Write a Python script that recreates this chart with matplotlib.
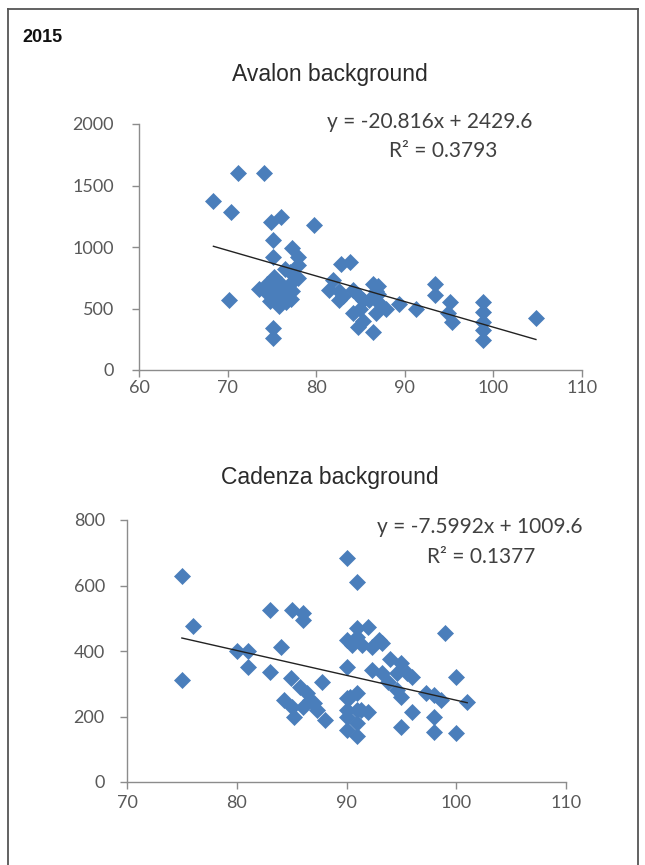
import matplotlib
matplotlib.use("Agg")
import matplotlib.pyplot as plt
from matplotlib.lines import Line2D
import numpy as np

# ---------------- data ----------------
avalon_x = [68.4, 70.4, 71.2, 74.1, 70.2, 79.8, 76.0, 74.9, 75.1, 75.1, 77.3, 77.9,
            77.2, 75.1, 75.1,
            73.5, 74.2, 74.5, 75.0, 75.2, 76.0, 76.2, 76.0, 77.0, 77.3, 78.0, 78.0,
            76.5, 75.5, 77.0, 74.8, 76.6, 75.8,
            82.8, 83.8, 81.9, 81.5, 86.4, 82.6, 84.7, 86.0, 87.1, 89.4, 91.3, 85.3,
            84.7, 86.4, 84.1, 86.8, 87.9, 82.6, 84.1, 85.3, 86.8, 83.0, 85.0, 87.0, 87.0,
            93.4, 93.4, 95.1, 94.9, 95.3,
            98.8, 98.8, 98.8, 98.8, 98.8,
            104.8]
avalon_y = [1376, 1287, 1600, 1600, 569, 1180, 1246, 1206, 1060, 921, 989, 921,
            580, 339, 257,
            660, 640, 700, 600, 760, 700, 640, 580, 700, 640, 750, 850,
            820, 680, 800, 560, 555, 520,
            860, 880, 730, 650, 700, 570, 610, 570, 545, 540, 500, 400,
            350, 310, 460, 460, 500, 640, 650, 570, 640, 600, 500, 680, 620,
            700, 610, 555, 460, 393,
            555, 474, 393, 325, 244,
            423]
avalon_slope, avalon_intercept, avalon_r2 = -20.816, 2429.6, 0.3793

cadenza_x = [75, 76, 75, 83, 85, 86, 86, 84, 80, 81, 81, 83,
             90, 91, 90, 91, 92, 93, 91, 90.5, 91.4, 92.3, 93.2, 99, 100, 101,
             90, 94, 95, 94.6, 95.5, 96, 92.3, 93.2, 93.8, 94.6, 97.2, 98, 98.6, 95,
             96, 98, 95, 98, 100,
             90, 91, 90, 91, 92, 90, 91, 90, 91,
             88, 86.4, 87, 84.9, 84.3, 85.8, 86.7, 87.8, 87.3, 85.2, 90.3, 91.3, 86, 85]
cadenza_y = [630, 475, 310, 525, 525, 515, 495, 413, 400, 400, 350, 335,
             685, 612, 434, 469, 474, 434, 444, 418, 418, 413, 423, 455, 322, 245,
             352, 375, 362, 332, 332, 322, 342, 332, 306, 281, 271, 266, 250, 260,
             215, 199, 169, 154, 149,
             256, 271, 220, 220, 213, 200, 180, 160, 140,
             189, 271, 240, 317, 250, 291, 250, 306, 220, 199, 260, 220, 230, 230]
cadenza_slope, cadenza_intercept, cadenza_r2 = -7.5992, 1009.6, 0.1377

avalon_xticks = [60, 70, 80, 90, 100, 110]
avalon_yticks = [0, 500, 1000, 1500, 2000]
cadenza_xticks = [70, 80, 90, 100, 110]
cadenza_yticks = [0, 200, 400, 600, 800]

# ---------------- figure ----------------
W, H = 645, 865
fig = plt.figure(figsize=(W / 100, H / 100), dpi=100)

def fx(px):
    return px / W

def fy(py):
    return 1 - py / H

MARK = "#4a7ebb"
AX = "#8c8c8c"
TXT = "#595959"
tick_font = ["Lato", "DejaVu Sans"]


def make_axes(x0, x1, y_top, y_bot, xlim, ylim, xticks, yticks, xs, ys, slope, icpt,
              ypad, xpad):
    ax = fig.add_axes([fx(x0), fy(y_bot), fx(x1) - fx(x0), fy(y_top) - fy(y_bot)])
    ax.set_xlim(*xlim)
    ax.set_ylim(*ylim)
    for s in ["top", "right"]:
        ax.spines[s].set_visible(False)
    for s in ["left", "bottom"]:
        ax.spines[s].set_color(AX)
        ax.spines[s].set_linewidth(1.0)
    ax.set_xticks(xticks)
    ax.set_yticks(yticks)
    ax.tick_params(axis="both", colors=AX, length=5, width=1.0, direction="out",
                   labelsize=13, labelcolor=TXT)
    ax.tick_params(axis="y", pad=ypad)
    ax.tick_params(axis="x", pad=xpad)
    for lab in ax.get_xticklabels() + ax.get_yticklabels():
        lab.set_family(tick_font)
    ax.plot(xs, ys, linestyle="none", marker="D", markersize=8,
            markerfacecolor=MARK, markeredgecolor=MARK, markeredgewidth=0.5,
            clip_on=False, zorder=3)
    xl = np.array([min(xs), max(xs)])
    ax.plot(xl, slope * xl + icpt, color="#222222", linewidth=1.0, zorder=4)
    ax.patch.set_alpha(0)
    return ax


make_axes(139, 582, 124, 370, (60, 110), (0, 2000), avalon_xticks, avalon_yticks,
          avalon_x, avalon_y, avalon_slope, avalon_intercept, ypad=13, xpad=2)
make_axes(127, 566, 520, 782, (70, 110), (0, 800), cadenza_xticks, cadenza_yticks,
          cadenza_x, cadenza_y, cadenza_slope, cadenza_intercept, ypad=11, xpad=4)

# ---------------- texts ----------------
title_font = ["Liberation Sans", "DejaVu Sans"]
fig.text(fx(22), fy(38), "2015", fontsize=13, family=title_font, color="#111111",
         va="center", ha="left", fontweight="bold")
fig.text(fx(330), fy(75), "Avalon background", fontsize=16.5, family=title_font,
         color="#2a2a2a", va="center", ha="center")
fig.text(fx(330), fy(478), "Cadenza background", fontsize=16.5, family=title_font,
         color="#2a2a2a", va="center", ha="center")

eq_size = 15
fig.text(fx(430), fy(122), f"y = {avalon_slope}x + {avalon_intercept}", fontsize=eq_size,
         family=tick_font, color="#404040", va="center", ha="center")
fig.text(fx(443), fy(151), f"R² = {avalon_r2}", fontsize=eq_size,
         family=tick_font, color="#404040", va="center", ha="center")
fig.text(fx(480), fy(527), f"y = {cadenza_slope}x + {cadenza_intercept}", fontsize=eq_size,
         family=tick_font, color="#404040", va="center", ha="center")
fig.text(fx(481), fy(557), f"R² = {cadenza_r2}", fontsize=eq_size,
         family=tick_font, color="#404040", va="center", ha="center")

# ---------------- outer frame ----------------
fc = "#555555"
fig.add_artist(Line2D([fx(8), fx(8)], [fy(9), 0], color=fc, lw=1.3))
fig.add_artist(Line2D([fx(8), fx(638)], [fy(9), fy(9)], color=fc, lw=1.3))
fig.add_artist(Line2D([fx(638), fx(638)], [fy(9), 0], color=fc, lw=1.3))

fig.savefig("out.png", dpi=100, facecolor="white")
